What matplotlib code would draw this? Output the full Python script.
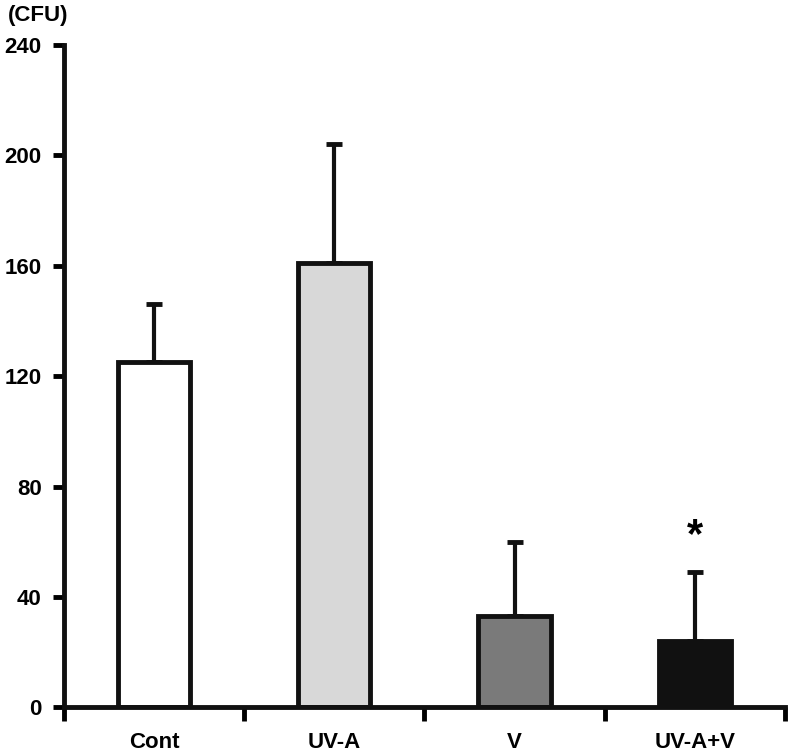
import matplotlib
matplotlib.use("Agg")
import matplotlib.pyplot as plt
import numpy as np

categories = ["Cont", "UV-A", "V", "UV-A+V"]
means = [125, 161, 33, 24]
errors = [21, 43, 27, 25]
colors = ["#ffffff", "#d8d8d8", "#7a7a7a", "#111111"]
yticks = [0, 40, 80, 120, 160, 200, 240]
star_y = 62

plt.rcParams['font.family'] = ['Liberation Sans', 'DejaVu Sans']
plt.rcParams['font.weight'] = 'bold'

fig = plt.figure(figsize=(7.92, 7.54), dpi=100)
ax = fig.add_axes([0.0808, 0.0617, 0.9102, 0.8786])

x = np.arange(len(categories))
ax.bar(x, means, width=0.4, color=colors, edgecolor="#111111", linewidth=3.5, zorder=2)
ax.errorbar(x, means, yerr=[np.zeros(len(errors)), errors], fmt='none', ecolor="#111111",
            elinewidth=3, capsize=6, capthick=3.5, zorder=1)
ax.text(x[3], star_y, "*", ha='center', va='center', fontsize=30, fontweight='bold')

ax.set_xlim(-0.5, 3.5)
ax.set_ylim(0, 240)
ax.set_yticks(yticks)
ax.set_yticklabels([str(v) for v in yticks], fontsize=16, fontweight='bold')
ax.set_xticks(np.arange(-0.5, 4.0, 1.0))
ax.set_xticklabels([])
ax.set_xticks(x, minor=True)
ax.set_xticklabels(categories, minor=True, fontsize=16, fontweight='bold')
ax.tick_params(axis='x', which='major', length=10, width=3.5, direction='out')
ax.tick_params(axis='x', which='minor', length=0, pad=18)
ax.tick_params(axis='y', length=8, width=3.5, direction='out', pad=8)

for s in ['top', 'right']:
    ax.spines[s].set_visible(False)
for s in ['left', 'bottom']:
    ax.spines[s].set_linewidth(3.5)
    ax.spines[s].set_color("#111111")

fig.text(0.01, 0.98, "(CFU)", ha='left', va='center', fontsize=16, fontweight='bold')

fig.savefig("out.png", dpi=100)
